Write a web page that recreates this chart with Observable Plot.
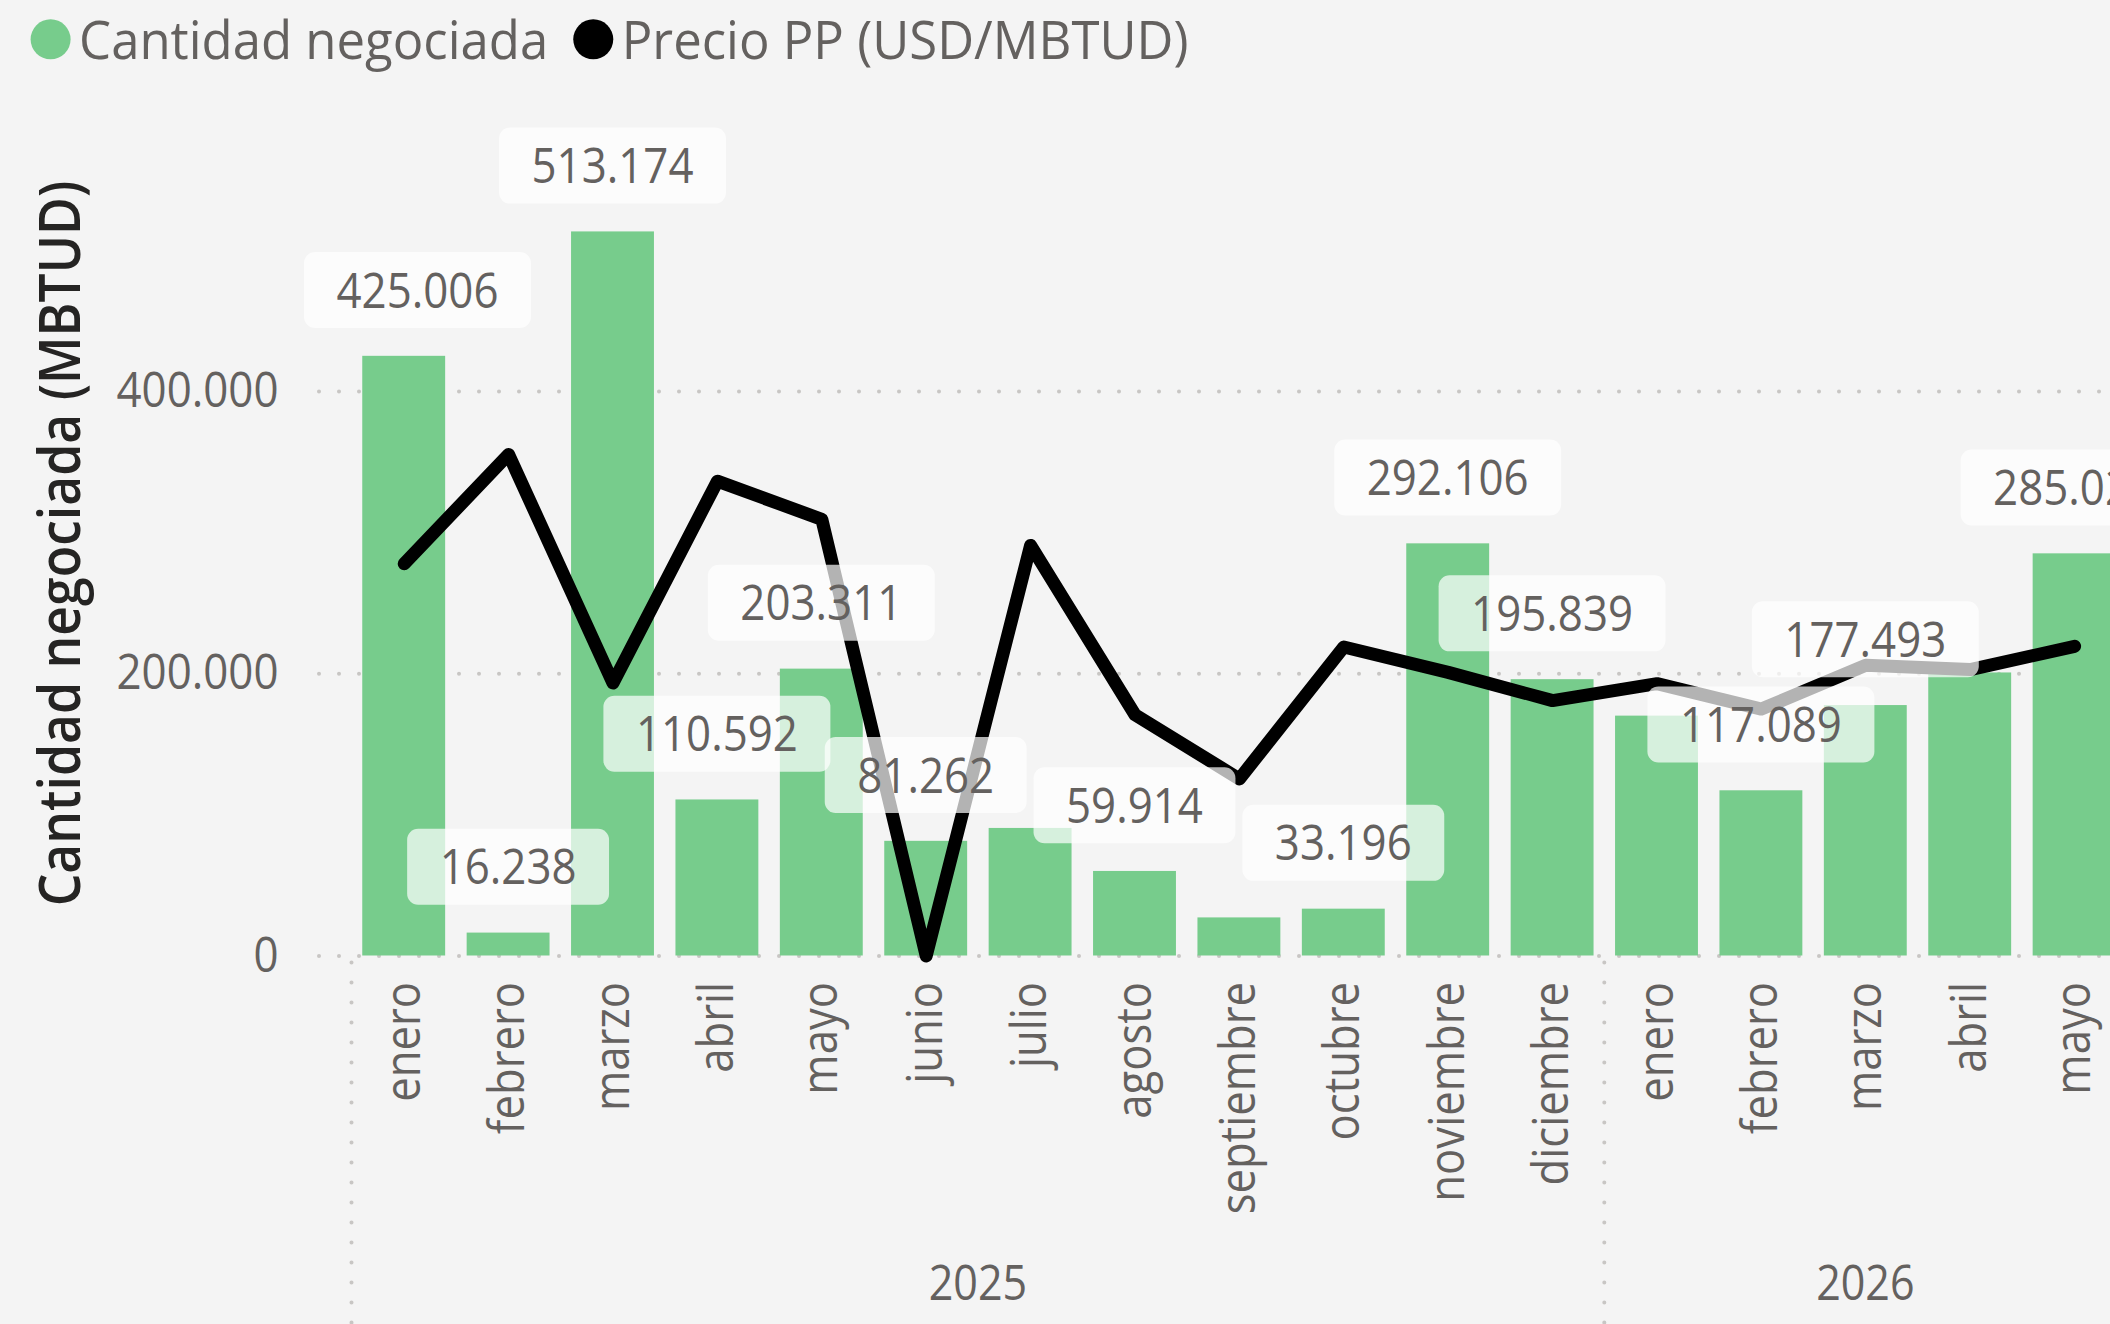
<!DOCTYPE html>
<html>
<head>
<meta charset="utf-8">
<script src="https://cdn.jsdelivr.net/npm/d3@7"></script>
<script src="https://cdn.jsdelivr.net/npm/@observablehq/plot@0.6"></script>
<style>
  html, body { margin: 0; padding: 0; background: #f4f4f4; overflow: hidden; width: 2110px; height: 1324px; }
  #legend, #chart svg { display: block; }
</style>
</head>
<body>
<svg id="legend" width="2110" height="80"></svg>
<div id="chart"></div>
<script>
// ---------------- data ----------------
const monthNames = ["enero","febrero","marzo","abril","mayo","junio","julio","agosto","septiembre","octubre","noviembre","diciembre"];
const periodYear  = [2025,2025,2025,2025,2025,2025,2025,2025,2025,2025,2025,2025,2026,2026,2026,2026,2026];
const periodMonth = [1,2,3,4,5,6,7,8,9,10,11,12,1,2,3,4,5];
const cantidad = [425006, 16238, 513174, 110592, 203311, 81262, 90400, 59914, 27000, 33196, 292106, 195839, 170000, 117089, 177493, 200600, 285024];
const precio   = [5.56, 7.11, 3.87, 6.73, 6.19, 0.00, 5.82, 3.42, 2.51, 4.38, 4.02, 3.62, 3.86, 3.50, 4.12, 4.06, 4.39];
const etiquetaVisible = [true,true,true,true,true,true,false,true,false,true,true,true,false,true,true,false,true];
const yTicks = [0, 200000, 400000];
const legendItems = ["Cantidad negociada", "Precio PP (USD/MBTUD)"];
const yTitle = "Cantidad negociada (MBTUD)";
// hidden secondary axis: 0–12 USD/MBTUD spans the same height as 0–600.000 MBTUD
const precioEje = [0, 12];
const cantidadEje = [0, 600000];

// ---------------- style ----------------
const green = "#77cc8c", gray = "#64615f", dark = "#252423", gridColor = "#c8c6c4";
const font = "'Open Sans', 'Noto Sans', sans-serif";
const labelSize = 49, titleSize = 58, labelDy = -64;

const fmt = d3.formatLocale({decimal: ",", thousands: ".", grouping: [3], currency: ["$", ""]}).format(",.0f");
const usdToQty = (cantidadEje[1] - cantidadEje[0]) / (precioEje[1] - precioEje[0]);

const rows = cantidad.map((q, i) => ({
  key: `${periodYear[i]}-${String(periodMonth[i]).padStart(2, "0")}`,
  year: periodYear[i],
  month: monthNames[periodMonth[i] - 1],
  qty: q,
  price: precio[i],
  show: etiquetaVisible[i]
}));
const labeled = rows.filter(d => d.show);
const monthOf = new Map(rows.map(d => [d.key, d.month]));

// year groups (hierarchical axis): separators + centered year labels
function yearGroups(index, scales, values, dims) {
  const x = scales.x, y = scales.y;
  const bw = x.bandwidth(), step = x.step();
  const g = d3.create("svg:g").attr("aria-label", "year-groups");
  const y0 = y(0);
  for (const [year, ds] of d3.groups(rows, d => d.year)) {
    const x0 = x(ds[0].key) - (step - bw) / 2;
    const x1 = x(ds[ds.length - 1].key) + bw + (step - bw) / 2;
    g.append("line")
      .attr("x1", x0).attr("x2", x0).attr("y1", y0 + 7).attr("y2", dims.height)
      .attr("stroke", gridColor).attr("stroke-width", 4)
      .attr("stroke-dasharray", "0 20").attr("stroke-linecap", "round");
    g.append("text")
      .attr("class", "yearlabel")
      .attr("x", (x0 + x1) / 2).attr("y", y0 + 344)
      .attr("text-anchor", "middle")
      .attr("font-size", 50).attr("font-family", font).attr("fill", gray)
      .text(year);
  }
  return g.node();
}

const W = 2110, H = 1244;
const chart = Plot.plot({
  width: W, height: H,
  marginLeft: 319, marginRight: 0, marginTop: 0, marginBottom: 368.5,
  style: {background: "none", fontFamily: font, color: gray, overflow: "hidden"},
  x: {type: "band", domain: rows.map(d => d.key), range: [351.5, 2126.3], paddingInner: 0.206, paddingOuter: 0.103, align: 0.5, round: false},
  y: {domain: [0, 400000], range: [875.5, 311.1]},
  marks: [
    Plot.gridY(yTicks, {stroke: gridColor, strokeOpacity: 1, strokeWidth: 4, strokeDasharray: "0 20", strokeLinecap: "round"}),
    yearGroups,
    Plot.barY(rows, {x: "key", y: "qty", fill: green, inset: 0}),
    Plot.lineY(rows, {x: "key", y: d => d.price * usdToQty, stroke: "#000", strokeWidth: 13, strokeLinejoin: "round", strokeLinecap: "round"}),
    Plot.text(labeled, {x: "key", y: "qty", text: d => fmt(d.qty), dy: labelDy, fontSize: labelSize, fill: gray}),
    Plot.axisY(yTicks, {tickSize: 0, tickPadding: 41, fontSize: 49, color: gray, tickFormat: fmt, label: null}),
    Plot.axisX({tickRotate: -90, tickSize: 0, tickPadding: 26, fontSize: 49, color: gray, tickFormat: k => monthOf.get(k), label: null}),
    Plot.text([yTitle], {text: d => d, frameAnchor: "left", textAnchor: "middle", rotate: -90, lineAnchor: "bottom", dx: 79.5 - 319, dy: 25.3, fontSize: titleSize, fontWeight: 600, fill: dark})
  ]
});
document.getElementById("chart").appendChild(chart);

// ---------------- text condensing (narrow UI font look) ----------------
function condense(sel, factor) {
  sel.each(function () {
    const n = this.getComputedTextLength();
    if (n > 0) {
      this.setAttribute("textLength", n * factor);
      this.setAttribute("lengthAdjust", "spacingAndGlyphs");
    }
  });
}
const svg = d3.select(chart);
const labelSel = svg.selectAll(`g[aria-label="text"][font-size="${labelSize}"] text`);
const titleSel = svg.selectAll(`g[aria-label="text"][font-size="${titleSize}"] text`);
condense(labelSel, 0.895);
condense(svg.selectAll('g[aria-label="y-axis tick label"] text'), 0.895);
condense(svg.selectAll('g[aria-label="x-axis tick label"] text'), 0.89);
condense(titleSel, 0.89);
condense(svg.selectAll("text.yearlabel"), 0.86);

// ---------------- rounded, semi-transparent label boxes ----------------
if (!labelSel.empty()) {
  const xs = chart.scale("x"), ys = chart.scale("y");
  const lblNode = labelSel.node().parentNode;
  lblNode.removeAttribute("transform");           // positions are set per label below (screen coords)
  const boxG = svg.insert("g", () => lblNode).attr("aria-label", "label-boxes");
  const padX = 32.5, boxH = 76, minBoxLeft = 304;
  labelSel.each(function (_, i) {
    const d = labeled[i];
    const w = +this.getAttribute("textLength") || this.getComputedTextLength();
    let cx = xs.apply(d.key) + xs.bandwidth / 2;
    const cy = ys.apply(d.qty) + labelDy;
    const bw = w + 2 * padX;
    if (cx - bw / 2 < minBoxLeft) cx = minBoxLeft + bw / 2;
    this.setAttribute("transform", `translate(${cx},${cy})`);
    boxG.append("rect")
      .attr("x", cx - bw / 2).attr("y", cy - 1.8 - boxH / 2)
      .attr("width", bw).attr("height", boxH)
      .attr("rx", 11).attr("ry", 11)
      .attr("fill", "#ffffff").attr("fill-opacity", 0.7);
  });
}

// ---------------- legend ----------------
const leg = d3.select("#legend");
const legendColors = [green, "#000000"];
let lx = 30.6;
legendItems.forEach((label, i) => {
  leg.append("circle").attr("cx", lx + 20).attr("cy", 39.3).attr("r", 20).attr("fill", legendColors[i]);
  const t = leg.append("text").attr("x", lx + 48.5).attr("y", 59.3)
    .attr("font-size", 53).attr("font-family", font).attr("fill", gray).text(label);
  const n = t.node().getComputedTextLength() * 0.96;
  t.attr("textLength", n).attr("lengthAdjust", "spacingAndGlyphs");
  lx = lx + 48.5 + n + 25;
});
</script>
</body>
</html>
